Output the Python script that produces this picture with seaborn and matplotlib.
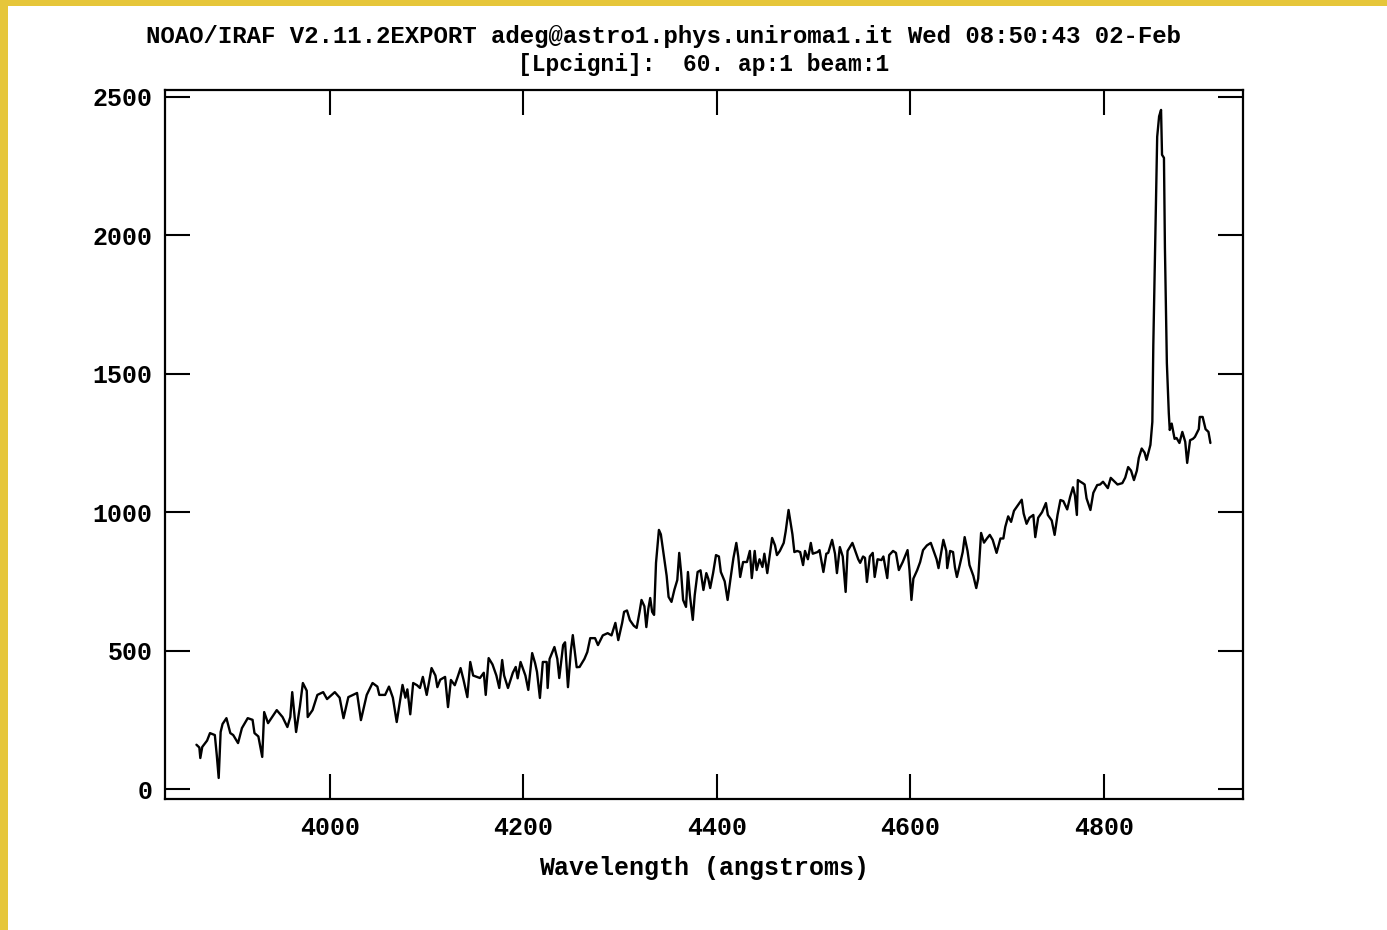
import matplotlib
matplotlib.use("Agg")
import matplotlib.pyplot as plt
import seaborn as sns
import pandas as pd
from matplotlib.patches import Rectangle

# ========================
# DATA
# ========================
TITLE_LINE1 = "NOAO/IRAF V2.11.2EXPORT adeg@astro1.phys.uniroma1.it Wed 08:50:43 02-Feb"
TITLE_LINE2 = "[Lpcigni]:  60. ap:1 beam:1"
XLABEL = "Wavelength (angstroms)"

X_TICKS = [4000, 4200, 4400, 4600, 4800]
Y_TICKS = [0, 500, 1000, 1500, 2000, 2500]

wavelength = [
    3862, 3865, 3866, 3868, 3873, 3876, 3881, 3883, 3885, 3887, 3889, 3893, 3897, 3900,
    3905, 3909, 3915, 3920, 3922, 3926, 3930, 3932, 3936, 3945, 3951, 3956, 3959, 3961,
    3965, 3969, 3972, 3976, 3977, 3982, 3987, 3993, 3997, 4005, 4010, 4014, 4019, 4028,
    4032, 4038, 4044, 4049, 4051, 4057, 4061, 4065, 4069, 4072, 4075, 4078, 4080, 4083,
    4086, 4090, 4093, 4096, 4100, 4105, 4109, 4111, 4114, 4119, 4122, 4125, 4129, 4132,
    4135, 4138, 4142, 4145, 4148, 4155, 4159, 4161, 4164, 4168, 4172, 4175, 4178, 4180,
    4184, 4189, 4192, 4194, 4197, 4202, 4205, 4209, 4212, 4214, 4217, 4220, 4224, 4225,
    4227, 4232, 4235, 4237, 4241, 4243, 4246, 4249, 4251, 4255, 4258, 4263, 4266, 4269,
    4274, 4277, 4282, 4287, 4291, 4295, 4298, 4302, 4304, 4307, 4310, 4314, 4317, 4320,
    4322, 4325, 4327, 4329, 4331, 4333, 4335, 4337, 4340, 4342, 4345, 4348, 4350, 4353,
    4356, 4359, 4361, 4363, 4365, 4368, 4370, 4372, 4375, 4377, 4380, 4383, 4386, 4389,
    4391, 4393, 4396, 4399, 4402, 4404, 4408, 4411, 4414, 4417, 4420, 4422, 4424, 4427,
    4431, 4434, 4436, 4439, 4441, 4444, 4447, 4449, 4452, 4454, 4457, 4460, 4462, 4465,
    4469, 4471, 4474, 4478, 4480, 4483, 4486, 4489, 4491, 4494, 4497, 4499, 4504, 4506,
    4510, 4513, 4515, 4519, 4522, 4524, 4527, 4530, 4533, 4535, 4540, 4543, 4546, 4548,
    4551, 4553, 4555, 4558, 4561, 4563, 4566, 4570, 4572, 4576, 4578, 4582, 4585, 4588,
    4592, 4597, 4599, 4601, 4603, 4607, 4610, 4613, 4617, 4621, 4624, 4627, 4629, 4632,
    4634, 4637, 4638, 4641, 4644, 4646, 4648, 4651, 4654, 4656, 4659, 4661, 4665, 4668,
    4670, 4673, 4676, 4679, 4682, 4685, 4689, 4693, 4696, 4698, 4701, 4704, 4707, 4711,
    4715, 4717, 4720, 4723, 4727, 4729, 4732, 4736, 4740, 4742, 4746, 4749, 4752, 4755,
    4758, 4762, 4765, 4768, 4770, 4772, 4773, 4778, 4780, 4782, 4786, 4789, 4793, 4796,
    4799, 4804, 4807, 4811, 4814, 4819, 4822, 4825, 4828, 4831, 4834, 4836, 4839, 4842,
    4844, 4848, 4850, 4851, 4853, 4855, 4857, 4859, 4860, 4862, 4863, 4865, 4867, 4868,
    4870, 4873, 4875, 4878, 4881, 4884, 4886, 4889, 4892, 4894, 4898, 4899, 4902, 4905,
    4908, 4910,
]

flux = [
    160, 150, 112, 152, 175, 202, 195, 123, 40, 206, 235, 256, 202, 195,
    166, 220, 256, 250, 202, 190, 116, 278, 238, 285, 260, 224, 260, 350,
    206, 300, 383, 355, 260, 285, 340, 350, 325, 350, 330, 256, 332, 347,
    249, 340, 383, 370, 340, 340, 370, 330, 242, 310, 376, 330, 360, 270,
    383, 375, 365, 405, 340, 437, 410, 368, 395, 405, 296, 394, 375, 405,
    437, 395, 332, 459, 410, 401, 420, 340, 473, 450, 410, 365, 466, 410,
    365, 420, 441, 400, 459, 410, 358, 491, 455, 423, 329, 459, 459, 365,
    470, 513, 470, 401, 520, 530, 368, 500, 556, 440, 441, 470, 495, 545,
    545, 520, 555, 563, 555, 600, 538, 600, 640, 645, 610, 590, 582, 640,
    683, 660, 585, 650, 690, 640, 629, 817, 936, 920, 845, 770, 694, 676,
    720, 755, 853, 780, 683, 658, 784, 700, 611, 700, 784, 790, 719, 780,
    760, 726, 780, 845, 840, 784, 750, 683, 760, 834, 889, 840, 766, 820,
    820, 860, 762, 860, 791, 830, 802, 850, 780, 830, 907, 880, 845, 860,
    889, 930, 1008, 920, 856, 860, 856, 809, 860, 830, 889, 850, 856, 863,
    784, 850, 853, 900, 850, 780, 874, 840, 712, 860, 889, 860, 830, 817,
    840, 835, 748, 840, 853, 766, 830, 827, 840, 762, 845, 860, 853, 791,
    820, 863, 790, 683, 760, 791, 820, 863, 880, 889, 860, 830, 798, 860,
    900, 860, 798, 860, 856, 800, 766, 810, 856, 910, 860, 809, 770, 726,
    760, 925, 890, 905, 918, 900, 853, 905, 905, 947, 985, 965, 1005, 1025,
    1045, 995, 958, 980, 990, 910, 980, 1000, 1033, 990, 970, 918, 990, 1044,
    1040, 1010, 1055, 1090, 1060, 990, 1116, 1105, 1100, 1050, 1008, 1070, 1098, 1100,
    1110, 1087, 1124, 1110, 1100, 1105, 1125, 1163, 1150, 1116, 1150, 1196, 1230, 1215,
    1189, 1243, 1326, 1604, 1984, 2356, 2430, 2453, 2291, 2280, 1955, 1539, 1358, 1297,
    1320, 1265, 1268, 1250, 1290, 1254, 1178, 1260, 1265, 1272, 1300, 1344, 1344, 1300,
    1290, 1250,
]

spectrum = pd.DataFrame({"wavelength": wavelength, "flux": flux})

# ========================
# PLOT
# ========================
sns.set_style("white")
plt.rcParams["font.family"] = ["Liberation Mono", "DejaVu Sans Mono"]
plt.rcParams["font.weight"] = "bold"
plt.rcParams["text.color"] = "black"

W, H = 1387, 930
fig = plt.figure(figsize=(W / 100, H / 100), dpi=100)
fig.patch.set_facecolor("white")

# yellow web-page border on the left and top edges
fig.add_artist(Rectangle((0, 0), 8 / W, 1, transform=fig.transFigure,
                         facecolor="#E6C63A", edgecolor="none", zorder=10))
fig.add_artist(Rectangle((0, 1 - 6 / H), 1, 6 / H, transform=fig.transFigure,
                         facecolor="#E6C63A", edgecolor="none", zorder=10))

ax = fig.add_axes([165 / W, 1 - 799 / H, (1243 - 165) / W, (799 - 90) / H])
sns.lineplot(data=spectrum, x="wavelength", y="flux", ax=ax, color="black",
             linewidth=1.7, sort=False, estimator=None)

ax.set_xlim(3829.5, 4943.7)
ax.set_ylim(-36, 2525)
ax.set_xticks(X_TICKS)
ax.set_yticks(Y_TICKS)
ax.tick_params(direction="in", length=18, width=1.5, top=True, right=True,
               bottom=True, left=True, labelsize=18, colors="black")
ax.tick_params(axis="x", pad=12)
ax.tick_params(axis="y", pad=9)
for lab in ax.get_xticklabels() + ax.get_yticklabels():
    lab.set_fontweight("bold")
for s in ax.spines.values():
    s.set_linewidth(1.6)
    s.set_color("black")

ax.set_xlabel(XLABEL, fontsize=18, fontweight="bold", labelpad=12, color="black")
ax.set_ylabel("")

fig.text(664 / W, 1 - 36 / H, TITLE_LINE1, ha="center", va="center",
         fontsize=17.3, fontweight="bold", color="black")
fig.text(704 / W, 1 - 64 / H, TITLE_LINE2, ha="center", va="center",
         fontsize=16.5, fontweight="bold", color="black")

fig.savefig("out.png", dpi=100)
